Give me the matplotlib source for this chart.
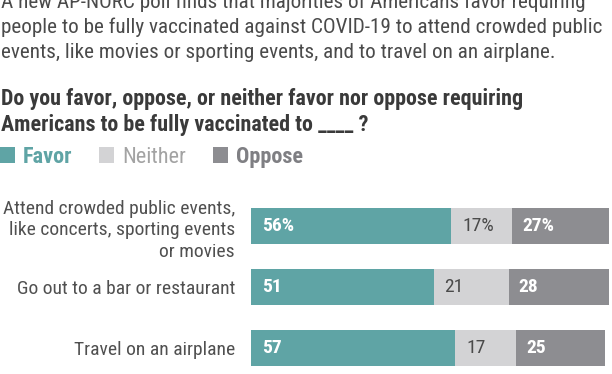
import matplotlib
matplotlib.use("Agg")
import matplotlib.pyplot as plt

plt.rcParams['font.family'] = ['Roboto Condensed', 'Archivo Narrow', 'Liberation Sans', 'DejaVu Sans']

categories = ["Attend crowded public events,\nlike concerts, sporting events\nor movies",
              "Go out to a bar or restaurant",
              "Travel on an airplane"]
favor = [56, 51, 57]
neither = [17, 21, 17]
oppose = [27, 28, 25]
favor_labels = ["56%", "51", "57"]
neither_labels = ["17%", "21", "17"]
oppose_labels = ["27%", "28", "25"]

intro = ["A new AP-NORC poll finds that majorities of Americans favor requiring",
         "people to be fully vaccinated against COVID-19 to attend crowded public",
         "events, like movies or sporting events, and to travel on an airplane."]
question = ["Do you favor, oppose, or neither favor nor oppose requiring",
            "Americans to be fully vaccinated to ____ ?"]

teal = "#5fa4a5"
light = "#d3d3d5"
dark = "#8d8d91"
txt = "#4a4a4a"

W, H = 612, 374
fig = plt.figure(figsize=(W / 100, H / 100), dpi=100)

def fy(px):
    return 1 - px / H

for line, y in zip(intro, [8, 33, 58]):
    fig.text(1 / W, fy(y), line, fontsize=15.25, color=txt, va="baseline", ha="left")
for line, y in zip(question, [105, 131]):
    fig.text(1 / W, fy(y), line, fontsize=15.8, color="#3a3a3a", fontweight="bold",
             va="baseline", ha="left")

# axes: x 251..609 px for 0..100
ax = fig.add_axes([251 / W, 0, 358 / W, 178 / H])
ax.set_xlim(0, 100)
ax.set_ylim(2.43, -0.5)
ypos = range(len(categories))
h = 0.59
b1 = ax.barh(ypos, favor, height=h, color=teal, label="Favor")
left2 = [f for f in favor]
b2 = ax.barh(ypos, neither, left=left2, height=h, color=light, label="Neither")
left3 = [f + n for f, n in zip(favor, neither)]
b3 = ax.barh(ypos, oppose, left=left3, height=h, color=dark, label="Oppose")

for i in ypos:
    ax.annotate(favor_labels[i], (0, i), xytext=(11, 0), textcoords="offset pixels",
                color="white", fontweight="bold", fontsize=14, va="center", ha="left")
    ax.annotate(neither_labels[i], (left2[i], i), xytext=(11, 0), textcoords="offset pixels",
                color=txt, fontsize=14, va="center", ha="left")
    ax.annotate(oppose_labels[i], (left3[i], i), xytext=(10, 0), textcoords="offset pixels",
                color="white", fontweight="bold", fontsize=14, va="center", ha="left")

ax.set_yticks(list(ypos))
ax.set_yticklabels(categories, fontsize=14, color="#505050", linespacing=1.25)
ax.tick_params(axis="y", length=0, pad=11.5)
ax.set_xticks([])
for s in ax.spines.values():
    s.set_visible(False)

leg = ax.legend(handles=[b1, b2, b3], loc="center left", bbox_to_anchor=(0, fy(157)),
                bbox_transform=fig.transFigure, ncol=3, frameon=False, fontsize=16,
                handlelength=0.68, handleheight=0.72, handletextpad=0.36,
                columnspacing=1.2, borderpad=0, borderaxespad=0)
for t, c, w in zip(leg.get_texts(), [teal, "#a3a3a3", "#7f7f83"], ["bold", "normal", "bold"]):
    t.set_color(c)
    t.set_fontweight(w)

fig.savefig("out.png", dpi=100)
